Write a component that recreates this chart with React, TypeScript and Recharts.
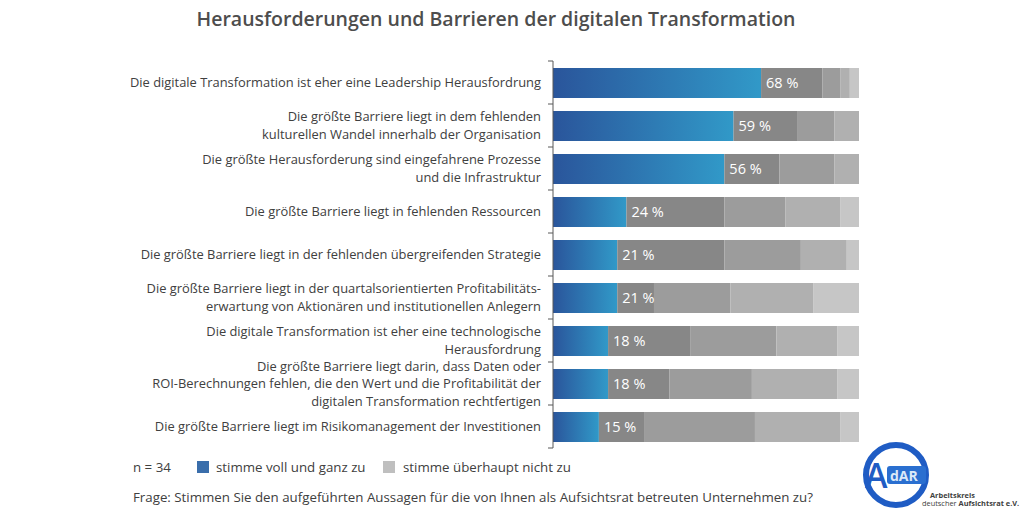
import * as React from 'react';
import { BarChart, Bar, XAxis, YAxis, LabelList } from 'recharts';

const categories: string[][] = [
  ['Die digitale Transformation ist eher eine Leadership Herausfordrung'],
  ['Die größte Barriere liegt in dem fehlenden', 'kulturellen Wandel innerhalb der Organisation'],
  ['Die größte Herausforderung sind eingefahrene Prozesse', 'und die Infrastruktur'],
  ['Die größte Barriere liegt in fehlenden Ressourcen'],
  ['Die größte Barriere liegt in der fehlenden übergreifenden Strategie'],
  ['Die größte Barriere liegt in der quartalsorientierten Profitabilitäts-', 'erwartung von Aktionären und institutionellen Anlegern'],
  ['Die digitale Transformation ist eher eine technologische', 'Herausfordrung'],
  ['Die größte Barriere liegt darin, dass Daten oder', 'ROI-Berechnungen fehlen, die den Wert und die Profitabilität der', 'digitalen Transformation rechtfertigen'],
  ['Die größte Barriere liegt im Risikomanagement der Investitionen'],
];

// answer shares in % (n = 34)
const stimmeVoll = [68, 59, 56, 24, 21, 21, 18, 18, 15];
const stimmeEher = [20, 21, 18, 32, 35, 12, 27, 20, 15];
const teilsTeils = [6, 12, 18, 20, 25, 25, 28, 27, 36];
const eherNicht = [3, 8, 8, 18, 15, 27, 20, 28, 28];
const stimmeNicht = [3, 0, 0, 6, 4, 15, 7, 7, 6];

const seriesColors = ['url(#blueGrad)', '#878787', '#9c9c9c', '#b0b0b0', '#c6c6c6'];

const FONT = '"Open Sans", "Noto Sans", sans-serif';
const TEXT = '#404040';
const AXIS_X = 553;
const TOP = 61;
const BOTTOM = 64;
const HEIGHT = 512;
const BAND = (HEIGHT - TOP - BOTTOM) / categories.length;

const data = categories.map((c, i) => ({
  name: String(i),
  voll: stimmeVoll[i],
  eher: stimmeEher[i],
  teils: teilsTeils[i],
  eherNicht: eherNicht[i],
  nicht: stimmeNicht[i],
}));

function CategoryTick(props: any) {
  const { y, payload, index } = props;
  const lines = categories[Number(payload.value)] || [];
  const lh = 17.5;
  const y0 = y - ((lines.length - 1) * lh) / 2;
  return (
    <g>
      {lines.map((l, k) => (
        <text key={k} x={AXIS_X - 12} y={y0 + k * lh} dy="0.35em" textAnchor="end" fill={TEXT} fontSize={12.9} fontFamily={FONT}>{l}</text>
      ))}
      <line x1={AXIS_X - 5} x2={AXIS_X} y1={y - BAND / 2} y2={y - BAND / 2} stroke="#595959" strokeWidth={1} />
      {index === categories.length - 1 && (
        <line x1={AXIS_X - 5} x2={AXIS_X} y1={y + BAND / 2} y2={y + BAND / 2} stroke="#595959" strokeWidth={1} />
      )}
    </g>
  );
}

function PctLabel(props: any) {
  const vb = props.viewBox || {};
  const x = props.x ?? vb.x;
  const y = props.y ?? vb.y;
  const h = props.height ?? vb.height;
  const i = props.index;
  return (
    <text x={x + 5} y={y + h / 2} dy="0.36em" fill="#ffffff" fontSize={14.5} fontFamily={FONT}>{stimmeVoll[i]} %</text>
  );
}

function Logo() {
  return (
    <svg width={174} height={72} style={{ position: 'absolute', left: 850, top: 440 }}>
      <circle cx={46} cy={35} r={30} fill="none" stroke="#1f5cc4" strokeWidth={6} />
      <text x={15} y={48} fontSize={34} fontFamily={FONT} fontWeight={600} fill="#1f5cc4">A</text>
      <rect x={37} y={26} width={39} height={18} rx={3} fill="#2a6fd0" />
      <text x={40} y={40.5} fontSize={14} fontFamily={FONT} fontWeight={700} fill="#dbe9f8">dAR</text>
      <text x={80} y={58} fontSize={7.4} fontFamily={FONT} fontWeight={700} fill="#404040">Arbeitskreis</text>
      <text x={72} y={66} fontSize={7.4} fontFamily={FONT} fill="#404040">deutscher <tspan fontWeight={700}>Aufsichtsrat e.V.</tspan></text>
    </svg>
  );
}

const legendText: React.CSSProperties = { position: 'absolute', top: 458, fontSize: 13.3, lineHeight: '18px', whiteSpace: 'nowrap' };

export default function App() {
  const keys = ['voll', 'eher', 'teils', 'eherNicht', 'nicht'];
  return (
    <div style={{ position: 'absolute', left: 0, top: 0, width: 1024, height: 512, background: '#fff', fontFamily: FONT, color: TEXT, overflow: 'hidden' }}>
      <div style={{ position: 'absolute', left: 0, width: 992, top: 5, textAlign: 'center', fontSize: 19.5, fontWeight: 600, color: '#4d4d4d' }}>
        Herausforderungen und Barrieren der digitalen Transformation
      </div>
      <div style={{ position: 'absolute', left: 0, top: 0 }}>
        <BarChart width={1024} height={HEIGHT} data={data} layout="vertical" margin={{ top: TOP, bottom: BOTTOM, left: 0, right: 1024 - 859 }} barSize={30}>
          <defs>
            <linearGradient id="blueGrad" x1="0" y1="0" x2="1" y2="0">
              <stop offset="0%" stopColor="#2a559b" />
              <stop offset="100%" stopColor="#3199c8" />
            </linearGradient>
          </defs>
          <XAxis type="number" domain={[0, 100]} hide />
          <YAxis type="category" dataKey="name" width={AXIS_X} tickLine={false} axisLine={{ stroke: '#595959' }} tick={<CategoryTick />} interval={0} />
          {keys.map((k, i) => (
            <Bar key={k} dataKey={k} stackId="a" fill={seriesColors[i]} isAnimationActive={false}>
              {i === 1 && <LabelList dataKey={k} content={<PctLabel />} />}
            </Bar>
          ))}
        </BarChart>
      </div>
      <div style={{ ...legendText, left: 133 }}>n = 34</div>
      <div style={{ position: 'absolute', left: 197, top: 461, width: 12, height: 12, background: '#3a6eab' }} />
      <div style={{ ...legendText, left: 216 }}>stimme voll und ganz zu</div>
      <div style={{ position: 'absolute', left: 383, top: 461, width: 12, height: 12, background: '#bfbfbf' }} />
      <div style={{ ...legendText, left: 403 }}>stimme überhaupt nicht zu</div>
      <div style={{ position: 'absolute', top: 488, left: 133, fontSize: 13.3, lineHeight: '18px', whiteSpace: 'nowrap' }}>
        Frage: Stimmen Sie den aufgeführten Aussagen für die von Ihnen als Aufsichtsrat betreuten Unternehmen zu?
      </div>
      <Logo />
    </div>
  );
}
